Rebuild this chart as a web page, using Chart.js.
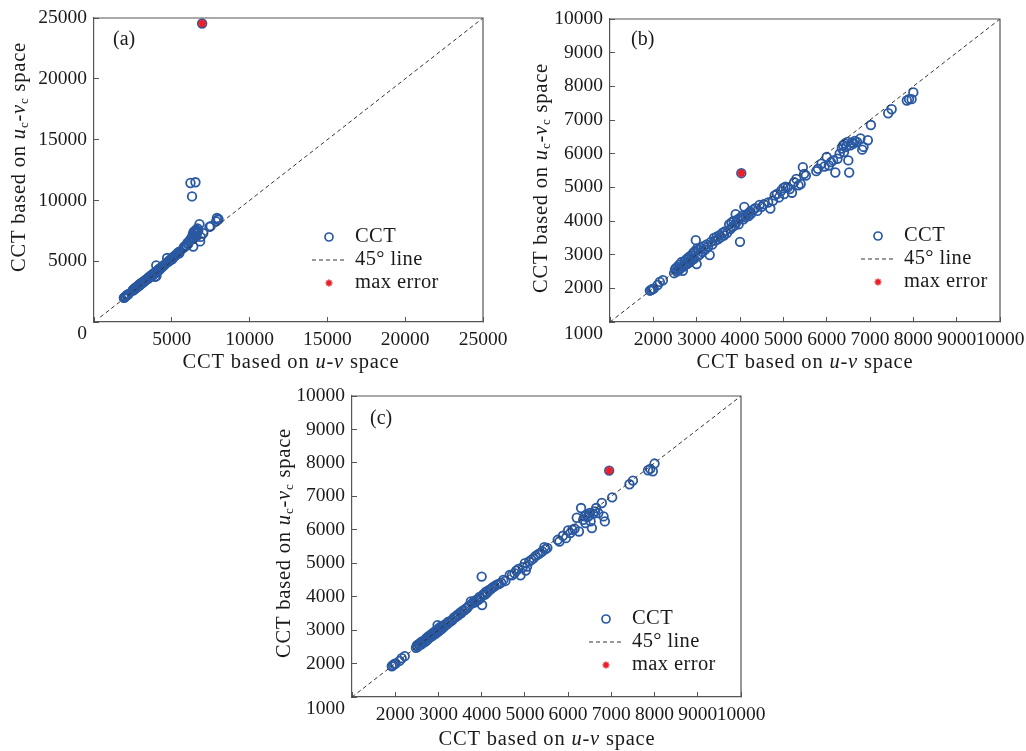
<!DOCTYPE html>
<html>
<head>
<meta charset="utf-8">
<script src="https://cdn.jsdelivr.net/npm/chart.js@4.4.0/dist/chart.umd.min.js"></script>
<style>
  body { margin: 0; background: #fff; width: 1026px; height: 751px; position: relative; overflow: hidden; }
  .panel { position: absolute; }
</style>
</head>
<body>
<div class="panel" style="left:0;top:0"><canvas id="chartA" width="513" height="380"></canvas></div>
<div class="panel" style="left:513px;top:0"><canvas id="chartB" width="513" height="380"></canvas></div>
<div class="panel" style="left:260px;top:380px"><canvas id="chartC" width="520" height="371"></canvas></div>
<script>
// CCT based on u-v space (shared by all three panels)
const cctUV = [
  1920, 1950, 1980, 2010, 2100, 2150, 2220,
  2480, 2500, 2520, 2540, 2560, 2580, 2600, 2620, 2650, 2680, 2700, 2720, 2740, 2760, 2780, 2800, 2820, 2840, 2860,
  2880, 2900, 2920, 2940, 2960, 2980, 3000, 3010, 3030, 3050, 3080, 3100, 3130, 3160, 3200, 3230, 3260, 3300,
  3330, 3360, 3400, 3430, 3460, 3500, 3530, 3560, 3600, 3630, 3660, 3700,
  3750, 3780, 3800, 3830, 3850, 3880, 3900, 3920, 3950, 3970, 4000, 4010, 4030, 4050, 4080, 4100, 4130, 4160, 4200, 4230, 4260, 4300,
  4350, 4400, 4450, 4500, 4550,
  4650, 4700, 4760, 4800, 4850, 4900, 4950, 5000,
  5020, 5050, 5100, 5150, 5200, 5250, 5300, 5350, 5400, 5450, 5480, 5520,
  5760, 5800, 5880, 5950, 6000, 6050, 6100, 6150, 6200, 6250, 6300,
  6350, 6380, 6400, 6420, 6450, 6480, 6500, 6520, 6550, 6580, 6620, 6650, 6700,
  6780, 6820, 6850, 6950, 7020,
  7420, 7500, 7850, 7900, 7960, 8000
];

// CCT based on uc-vc space, panel (a)
const cctA = [
  1980, 2000, 2050, 2080, 2180, 2240, 2300,
  2580, 2620, 2600, 2680, 2640, 2720, 2700, 2760, 2740, 2820, 2780, 2860, 2830, 2900, 2870, 2950, 2920, 2990, 2960,
  3030, 3000, 3080, 3040, 3110, 3080, 3150, 3100, 3190, 3160, 3230, 3200, 3280, 3260, 3340, 3330, 3400, 3420,
  3480, 3460, 3550, 3540, 3610, 3600, 3680, 3660, 3750, 3740, 3820, 3800,
  3900, 3880, 3960, 3930, 4000, 3980, 4060, 3720, 4100, 4080, 4660, 3780, 4180, 4200, 4150, 4260, 4240, 4320, 4300, 4400, 4380, 4460,
  4500, 4560, 4600, 4680, 4720,
  4850, 5260, 4950, 5000, 5060, 5100, 5150, 5220,
  5150, 5300, 5320, 5400, 5450, 5500, 5550, 5600, 5700, 5750, 5650, 5800,
  6100, 6200, 6250, 6300, 6500, 6400, 6600, 6700, 11430, 6900, 10330,
  7200, 6200, 7400, 6900, 7300, 7100, 7500, 11490, 7000, 7600, 7300, 7700, 7500,
  8050, 6630, 7000, 24550, 7300,
  7820, 7880, 8280, 8550, 8420, 8450
];

// panel (b)
const cctB = [
  1930, 1950, 1980, 1990, 2100, 2190, 2240,
  2450, 2560, 2600, 2500, 2640, 2540, 2700, 2580, 2780, 2520, 2650, 2800, 2700, 2860, 2720, 2900, 2760, 2950, 2800,
  2980, 2850, 3050, 2880, 3100, 3430, 2720, 3180, 2960, 3150, 3020, 3200, 3080, 3250, 3150, 3300, 3230, 2990,
  3380, 3300, 3500, 3420, 3530, 3460, 3580, 3520, 3650, 3570, 3700, 3640,
  3900, 3760, 3950, 3830, 4000, 3870, 4200, 3960, 4050, 3900, 3380, 4100, 5420, 4150, 4050, 4420, 4120, 4200, 4150, 4280, 4220, 4330,
  4380, 4300, 4480, 4420, 4500,
  4550, 4370, 4600, 4760, 4800, 4700, 4900, 4980,
  4800, 5020, 5000, 4950, 4840, 5150, 5250, 5060, 5100, 5600, 5400, 5350,
  5480, 5550, 5700, 5620, 5900, 5650, 5750, 5800, 5440, 5850, 6000,
  6150, 6250, 6050, 6300, 6200, 6350, 5800, 5440, 6250, 6330, 6300, 6380, 6350,
  6450, 6120, 6200, 6400, 6850,
  7200, 7320, 7580, 7620, 7620, 7820
];

// panel (c)
const cctC = [
  1920, 1950, 1990, 2000, 2080, 2160, 2220,
  2470, 2540, 2500, 2580, 2560, 2620, 2570, 2660, 2620, 2700, 2660, 2760, 2700, 2800, 2760, 2840, 2790, 2880, 2830,
  2920, 2870, 2960, 2900, 3000, 3150, 2960, 3060, 2990, 3100, 3040, 3120, 3100, 3180, 3170, 3250, 3240, 3280,
  3310, 3380, 3390, 3450, 3440, 3520, 3510, 3580, 3590, 3640, 3650, 3720,
  3860, 3800, 3820, 3870, 3830, 3900, 3920, 3900, 3990, 3950, 4600, 3750, 4050, 4080, 4060, 4150, 4120, 4190, 4210, 4250, 4280, 4310,
  4360, 4380, 4420, 4500, 4470,
  4650, 4640, 4700, 4780, 4830, 4640, 4880, 5000,
  4780, 4900, 5050, 5100, 5150, 5220, 5260, 5300, 5350, 5480, 5420, 5460,
  5700, 5650, 5820, 5750, 5980, 5900, 6000, 6030, 6360, 5950, 6650,
  6300, 6400, 6200, 6450, 6380, 6420, 6500, 6250, 6050, 6480, 6550, 6650, 6500,
  6800, 6400, 6250, 7770, 6970,
  7360, 7470, 7780, 7820, 7750, 7980
];

const ticksA = [0, 5000, 10000, 15000, 20000, 25000];
const ticksBC = [1000, 2000, 3000, 4000, 5000, 6000, 7000, 8000, 9000, 10000];
const lineA = [400, 25000];
const lineBC = [1000, 10000];

const blue = '#2a59a2';
const red = '#e8202a';
const frameColor = '#555';
const textColor = '#1a1a1a';
const serif = '"Liberation Serif", "Times New Roman", serif';

Chart.defaults.font.family = serif;
Chart.defaults.color = textColor;

const xTitle = [['CCT based on ', 'n'], ['u', 'i'], ['-', 'n'], ['v', 'i'], [' space', 'n']];
const yTitle = [['CCT based on ', 'n'], ['u', 'i'], ['c', 's'], ['-', 'n'], ['v', 'i'], ['c', 's'], [' space', 'n']];

function drawRich(ctx, parts, cx, cy, vertical) {
  const fonts = { n: '20.5px ' + serif, i: 'italic 20.5px ' + serif, s: '13px ' + serif };
  ctx.save();
  ctx.letterSpacing = '0.8px';
  let total = 0;
  const widths = parts.map(p => {
    ctx.font = fonts[p[1]];
    const w = ctx.measureText(p[0]).width;
    total += w;
    return w;
  });
  ctx.translate(cx, cy);
  if (vertical) ctx.rotate(-Math.PI / 2);
  ctx.textAlign = 'left';
  ctx.textBaseline = 'middle';
  ctx.fillStyle = textColor;
  let x = -total / 2;
  parts.forEach((p, i) => {
    ctx.font = fonts[p[1]];
    ctx.fillText(p[0], x, p[1] === 's' ? 5 : 0);
    x += widths[i];
  });
  ctx.restore();
}

const decor = {
  id: 'decor',
  afterDraw(chart, args, o) {
    const { ctx, chartArea: a } = chart;
    ctx.save();
    // top and right side of the box
    ctx.strokeStyle = frameColor;
    ctx.lineWidth = 1.2;
    ctx.beginPath();
    ctx.moveTo(a.left, a.top);
    ctx.lineTo(a.right, a.top);
    ctx.lineTo(a.right, a.bottom);
    ctx.stroke();

    ctx.fillStyle = textColor;
    ctx.font = '20px ' + serif;
    ctx.textAlign = 'left';
    ctx.textBaseline = 'middle';
    ctx.fillText(o.label, o.labelPos[0], o.labelPos[1]);

    drawRich(ctx, xTitle, o.xTitle[0], o.xTitle[1], false);
    drawRich(ctx, yTitle, o.yTitle[0], o.yTitle[1], true);

    // legend
    const lx = o.legend[0];
    const rows = [o.legend[1], o.legend[1] + 23, o.legend[1] + 46];
    ctx.strokeStyle = blue;
    ctx.lineWidth = 1.7;
    ctx.beginPath();
    ctx.arc(lx - 26, rows[0], 4, 0, Math.PI * 2);
    ctx.stroke();
    ctx.strokeStyle = '#333';
    ctx.lineWidth = 1;
    ctx.setLineDash([4, 3]);
    ctx.beginPath();
    ctx.moveTo(lx - 43, rows[1]);
    ctx.lineTo(lx - 10, rows[1]);
    ctx.stroke();
    ctx.setLineDash([]);
    ctx.strokeStyle = red;
    ctx.fillStyle = red;
    ctx.lineWidth = 1.6;
    Chart.helpers.drawPoint(ctx, { pointStyle: 'star', radius: 3.5, borderWidth: 1.6, rotation: 0 }, lx - 26, rows[2]);
    ctx.fillStyle = textColor;
    ctx.font = '20.5px ' + serif;
    ctx.letterSpacing = '0.4px';
    ctx.fillText('CCT', lx, rows[0]);
    ctx.fillText('45\u00b0 line', lx, rows[1]);
    ctx.fillText('max error', lx, rows[2]);
    ctx.restore();
  }
};

function axis(ticks, size, isX) {
  return {
    type: 'linear',
    min: ticks[0],
    max: ticks[ticks.length - 1],
    afterBuildTicks: s => { s.ticks = ticks.map(v => ({ value: v })); },
    afterFit: s => {
      if (isX) { s.height = size; s.paddingLeft = 0; s.paddingRight = 0; }
      else { s.width = size; s.paddingTop = 0; s.paddingBottom = 0; }
    },
    grid: { drawOnChartArea: false, drawTicks: true, tickLength: -5, color: frameColor, tickWidth: 1 },
    border: { display: true, color: frameColor, width: 1.2 },
    ticks: {
      autoSkip: false,
      maxRotation: 0,
      padding: isX ? 11 : 12,
      color: textColor,
      font: { size: 19.5 },
      callback: (v, i) => i === 0 ? (isX ? '' : ['', String(v)]) : String(v)
    }
  };
}

function maxErrorPoint(ys) {
  let best = 0;
  ys.forEach((y, i) => { if (Math.abs(y - cctUV[i]) > Math.abs(ys[best] - cctUV[best])) best = i; });
  return { x: cctUV[best], y: ys[best] };
}

function makeChart(id, ys, ticks, line, box, deco) {
  const pts = cctUV.map((x, i) => ({ x, y: ys[i] }));
  const canvas = document.getElementById(id);
  return new Chart(canvas, {
    type: 'scatter',
    data: {
      datasets: [
        { label: 'max error', data: [maxErrorPoint(ys)], pointStyle: 'star', pointRadius: 4, borderColor: red, backgroundColor: red, borderWidth: 2.2, order: 0 },
        { type: 'line', label: '45\u00b0 line', data: line.map(v => ({ x: v, y: v })), borderColor: '#333', borderWidth: 1, borderDash: [4, 3], pointRadius: 0, fill: false, order: 1 },
        { label: 'CCT', data: pts, pointStyle: 'circle', pointRadius: 4.3, borderColor: blue, backgroundColor: 'rgba(0,0,0,0)', borderWidth: 1.8, order: 2 }
      ]
    },
    options: {
      responsive: false,
      animation: false,
      events: [],
      layout: { autoPadding: false, padding: { left: 0, top: box.top, right: canvas.width - box.right, bottom: 0 } },
      scales: {
        x: axis(ticks, canvas.height - box.bottom, true),
        y: axis(ticks, box.left, false)
      },
      plugins: {
        legend: { display: false },
        tooltip: { enabled: false },
        decor: deco
      }
    },
    plugins: [decor]
  });
}

makeChart('chartA', cctA, ticksA, lineA,
  { left: 94, top: 18, right: 483, bottom: 322 },
  { label: '(a)', labelPos: [113, 40], xTitle: [291, 363], yTitle: [20, 157], legend: [355, 237] });

makeChart('chartB', cctB, ticksBC, lineBC,
  { left: 97, top: 19, right: 487, bottom: 322 },
  { label: '(b)', labelPos: [118, 40], xTitle: [292, 363], yTitle: [29, 178], legend: [391, 236] });

makeChart('chartC', cctC, ticksBC, lineBC,
  { left: 92, top: 16, right: 481, bottom: 317 },
  { label: '(c)', labelPos: [110, 39], xTitle: [287, 360], yTitle: [25, 163], legend: [372, 239] });
</script>
</body>
</html>
